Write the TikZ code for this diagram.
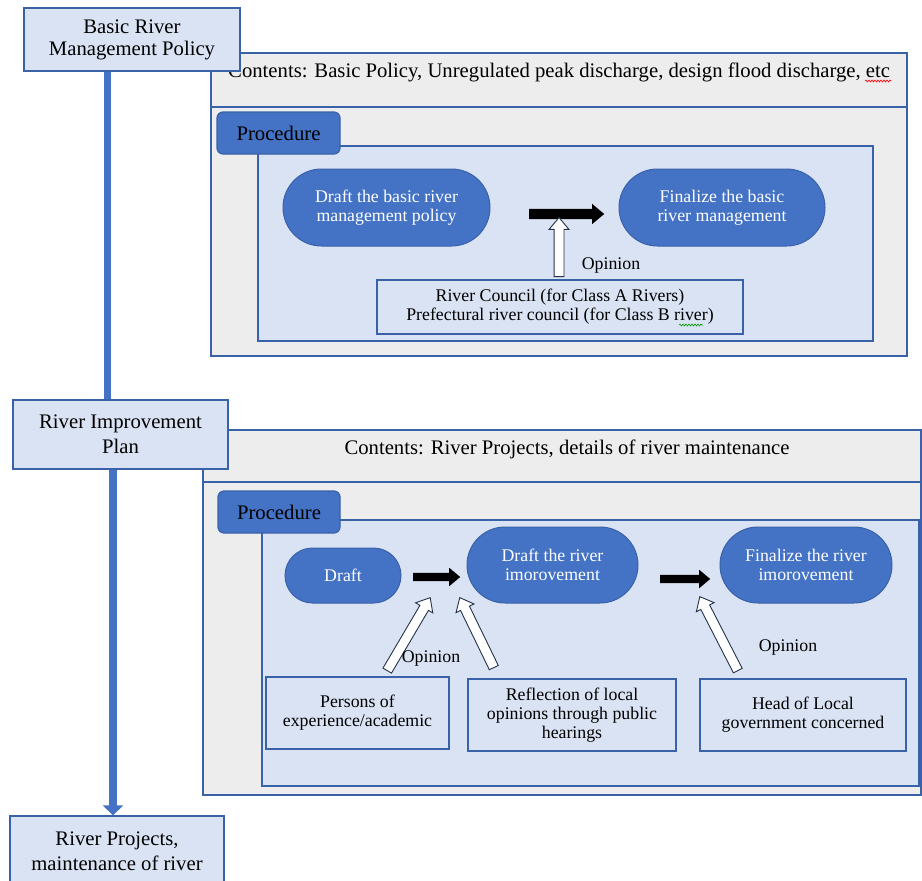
\documentclass[tikz,border=0pt]{standalone}
\usepackage{fontspec}
\setmainfont{Liberation Serif}
\usetikzlibrary{shapes.arrows,shapes.misc,arrows.meta,decorations.pathmorphing,calc}
\definecolor{pillc}{HTML}{4472C4}
\definecolor{lightc}{HTML}{DAE3F3}
\definecolor{greyc}{HTML}{EDEDED}
\definecolor{bordc}{HTML}{3A62A8}
\definecolor{hollowc}{HTML}{24324A}
\newcommand{\largetxt}{\fontsize{20.7}{22}\selectfont}
\newcommand{\smalltxt}{\fontsize{17.8}{19}\selectfont}
\tikzset{
 lightbox/.style={draw=bordc, fill=lightc, line width=1.3pt, align=center, inner sep=0pt, font=\largetxt},
 smallbox/.style={lightbox, font=\smalltxt},
 pill/.style={rounded rectangle, draw=bordc, fill=pillc, text=white, line width=1pt, align=center, inner sep=0pt, font=\smalltxt},
 tabbox/.style={draw=bordc, fill=pillc, line width=1.2pt, rounded corners=6pt, inner sep=0pt, font=\largetxt},
 container/.style={draw=bordc, fill=greyc, line width=1.3pt},
 panel/.style={draw=bordc, fill=lightc, line width=1.3pt},
 vline/.style={draw=pillc, line width=7pt},
 hollow/.style={single arrow, draw=hollowc, fill=white, line width=0.9pt, inner xsep=0pt, inner ysep=4.5pt, single arrow head extend=5pt, single arrow tip angle=80, anchor=tail},
 solidarrow/.style={single arrow, fill=black, inner xsep=0pt, inner ysep=5pt, single arrow head extend=5pt, single arrow tip angle=80, anchor=tail},
 lbl/.style={font=\smalltxt, inner sep=0pt},
 squig/.style={decorate, decoration={snake, amplitude=1pt, segment length=3pt}, line width=0.6pt},
}
% #1 style, #2 from, #3 to, #4 name
\newcommand{\arrowbetween}[4]{%
 \path let \p1=(#2), \p2=(#3), \n1={atan2(\y2-\y1,\x2-\x1)}, \n2={veclen(\x2-\x1,\y2-\y1)} in
   node[#1, minimum height=\n2*1pt, rotate=\n1] (#4) at (\p1) {};
}
\begin{document}
\begin{tikzpicture}[x=1pt,y=-1pt]
\useasboundingbox (0,0) rectangle (922,881);
\clip (0,0) rectangle (922,881);

% ---------- section 1 ----------
\draw[container] (211,53) rectangle (907,356);
\draw[bordc, line width=1.3pt] (211,107) -- (907,107);
\node[font=\largetxt, anchor=base west, inner sep=0pt] (c1txt) at (228,77) {Contents: Basic Policy, Unregulated peak discharge, design flood discharge, etc};
\draw[red, squig] (865,81) -- (891,81);
\draw[panel] (258,146) rectangle (873,341);
\node[tabbox, minimum width=123pt, minimum height=42pt] (tab1) at (278.5,133) {Procedure};

\node[pill, minimum width=207pt, minimum height=77pt] (p1) at (386.5,207.5) {Draft the basic river\\management policy};
\node[pill, minimum width=206pt, minimum height=77pt] (p2) at (722,207.5) {Finalize the basic\\river management};
\node[smallbox, minimum width=366pt, minimum height=54pt] (council) at (560,307) {River Council (for Class A Rivers)\\Prefectural river council (for Class B river)};
\draw[green!60!black, squig] (679,325) -- (703,325);

\coordinate (a1s) at (529,214);
\coordinate (a1e) at (604,214);
\arrowbetween{solidarrow}{a1s}{a1e}{blk1}
\coordinate (h1s) at (559,277);
\coordinate (h1e) at (559,218);
\arrowbetween{hollow}{h1s}{h1e}{hol1}
\node[lbl] (op1) at (611,265) {Opinion};

% ---------- section 2 ----------
\draw[container] (203,430) rectangle (921,795);
\draw[bordc, line width=1.3pt] (203,482) -- (921,482);
\node[font=\largetxt, anchor=base, inner sep=0pt] (c2txt) at (567,454) {Contents: River Projects, details of river maintenance};
\draw[panel] (262,520) rectangle (919,786);
\node[tabbox, minimum width=122pt, minimum height=42pt] (tab2) at (279,512) {Procedure};

\node[pill, minimum width=116pt, minimum height=55pt] (q1) at (343,575.5) {Draft};
\node[pill, minimum width=171pt, minimum height=76pt] (q2) at (552.5,565) {Draft the river\\imorovement};
\node[pill, minimum width=172pt, minimum height=76pt] (q3) at (806,565) {Finalize the river\\imorovement};

\node[smallbox, minimum width=183pt, minimum height=72pt] (persons) at (357.5,713) {Persons of\\experience/academic};
\node[smallbox, minimum width=208pt, minimum height=72pt] (reflect) at (572,715) {Reflection of local\\opinions through public\\hearings};
\node[smallbox, minimum width=206pt, minimum height=72pt] (head) at (803,715) {Head of Local\\government concerned};

\coordinate (b1s) at (413,577);
\coordinate (b1e) at (460,577);
\arrowbetween{solidarrow, inner ysep=4pt}{b1s}{b1e}{blk2}
\coordinate (b2s) at (660,579);
\coordinate (b2e) at (710,579);
\arrowbetween{solidarrow, inner ysep=4pt}{b2s}{b2e}{blk3}

\coordinate (g1s) at (387,671);
\coordinate (g1e) at (430,598);
\arrowbetween{hollow}{g1s}{g1e}{hol2}
\coordinate (g2s) at (494,668);
\coordinate (g2e) at (460,598);
\arrowbetween{hollow}{g2s}{g2e}{hol3}
\coordinate (g3s) at (738,671);
\coordinate (g3e) at (700,597);
\arrowbetween{hollow}{g3s}{g3e}{hol4}
\node[lbl] (op2) at (431,658) {Opinion};
\node[lbl] (op3) at (788,647) {Opinion};

% ---------- left column ----------
\coordinate (xa) at (107,0);
\coordinate (xb) at (113,0);
\node[lightbox, minimum width=216pt, minimum height=63pt] (bm) at (132,39.5) {Basic River\\Management Policy};
\node[lightbox, minimum width=215pt, minimum height=69pt] (rip) at (120.5,434.5) {River Improvement\\[3pt]Plan};
\node[lightbox, minimum width=214pt, minimum height=70pt] (rp) at (117,851) {River Projects,\\[3pt]maintenance of river};
\draw[vline] (bm.south -| xa) -- (rip.north -| xa);
\draw[vline, line width=8pt, -{Triangle[width=20pt,length=10pt]}] (rip.south -| xb) -- (rp.north -| xb);
\end{tikzpicture}
\end{document}
